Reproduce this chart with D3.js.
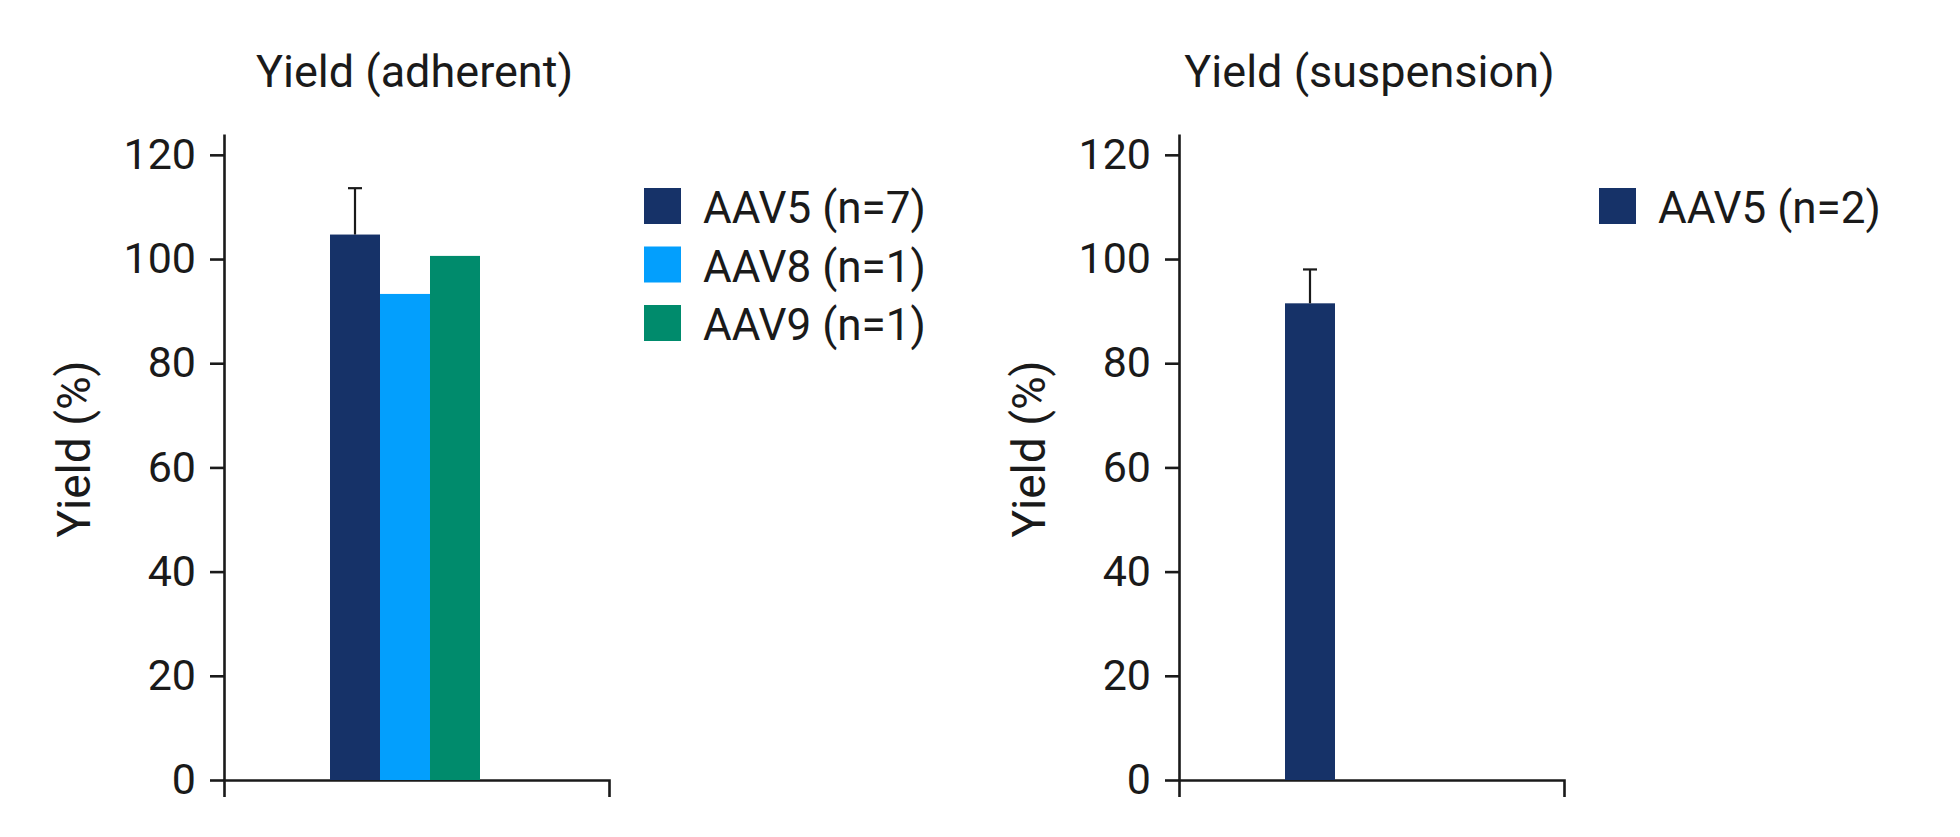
<!DOCTYPE html>
<html>
<head>
<meta charset="utf-8">
<script src="https://cdn.jsdelivr.net/npm/d3@7"></script>
<style>
  body { margin: 0; background: #fff; }
  text { font-family: Roboto, "Noto Sans", sans-serif; fill: #1a1a1a; }
  .axis path, .axis line { stroke: #1a1a1a; stroke-width: 2.6; }
  .axis text { font-size: 43px; font-family: Roboto, "Noto Sans", sans-serif; fill: #1a1a1a; }
</style>
</head>
<body>
<div id="chart"></div>
<script>
var svgWidth = 1960;
var svgHeight = 837;

// data
var adherentSeries = ["AAV5 (n=7)", "AAV8 (n=1)", "AAV9 (n=1)"];
var adherentYield = [104.7, 93.3, 100.6];
var adherentError = [8.9, null, null];

var suspensionSeries = ["AAV5 (n=2)"];
var suspensionYield = [91.5];
var suspensionError = [6.5];

var yTicks = [0, 20, 40, 60, 80, 100, 120];

var serotypeColors = {
  AAV5: "#163268",
  AAV8: "#039ffd",
  AAV9: "#008b6c"
};

// layout
var plotTop = 134;
var plotBottom = 780;
var plotWidth = 385;
var barWidth = 50;
var groupOffset = 106;

var svg = d3.select("#chart")
  .append("svg")
  .attr("width", svgWidth)
  .attr("height", svgHeight);

function drawPanel(left, title, series, values, errors) {
  var g = svg.append("g")
    .attr("transform", `translate(${left}, 0)`);

  var yScale = d3.scaleLinear()
    .domain([0, 124])
    .range([plotBottom, plotTop]);

  var xScale = d3.scaleBand()
    .domain(series)
    .range([groupOffset, groupOffset + barWidth * series.length]);

  // y axis
  g.append("g")
    .attr("class", "axis")
    .call(d3.axisLeft(yScale)
      .tickValues(yTicks)
      .tickSize(14)
      .tickSizeOuter(0)
      .tickPadding(14));

  // x axis: plain line with end ticks pointing down
  g.append("g")
    .attr("class", "axis")
    .attr("transform", `translate(0, ${plotBottom})`)
    .call(d3.axisBottom(d3.scaleLinear().range([0, plotWidth]))
      .tickValues([])
      .tickSizeOuter(17));

  var data = series.map(function(s, i) {
    return { name: s, value: values[i], err: errors[i], key: s.split(" ")[0] };
  });

  // bars
  g.append("g").selectAll("rect")
    .data(data)
    .enter()
    .append("rect")
    .attr("x", d => xScale(d.name))
    .attr("width", xScale.bandwidth())
    .attr("y", d => yScale(d.value))
    .attr("height", d => yScale(0) - yScale(d.value))
    .attr("fill", d => serotypeColors[d.key]);

  // error bars (upper only)
  var errData = data.filter(d => d.err != null);
  var errG = g.append("g")
    .attr("stroke", "#1a1a1a")
    .attr("stroke-width", 2.2);

  errG.selectAll(".err-stem")
    .data(errData)
    .enter()
    .append("line")
    .attr("x1", d => xScale(d.name) + xScale.bandwidth() / 2)
    .attr("x2", d => xScale(d.name) + xScale.bandwidth() / 2)
    .attr("y1", d => yScale(d.value))
    .attr("y2", d => yScale(d.value + d.err));

  errG.selectAll(".err-cap")
    .data(errData)
    .enter()
    .append("line")
    .attr("x1", d => xScale(d.name) + xScale.bandwidth() / 2 - 7)
    .attr("x2", d => xScale(d.name) + xScale.bandwidth() / 2 + 7)
    .attr("y1", d => yScale(d.value + d.err))
    .attr("y2", d => yScale(d.value + d.err));

  // title
  g.append("text")
    .attr("x", plotWidth / 2 - 2)
    .attr("y", 87)
    .attr("text-anchor", "middle")
    .style("font-size", "45px")
    .text(title);

  // y axis label
  g.append("text")
    .attr("transform", `translate(-134, ${(plotTop + plotBottom) / 2 - 8}) rotate(-90)`)
    .attr("text-anchor", "middle")
    .style("font-size", "46px")
    .text("Yield (%)");

  // legend
  var legend = g.append("g")
    .attr("transform", "translate(420, 188)");

  var rows = legend.selectAll("g")
    .data(data)
    .enter()
    .append("g")
    .attr("transform", (d, i) => `translate(0, ${i * 58.5})`);

  rows.append("rect")
    .attr("width", 37)
    .attr("height", 36)
    .attr("fill", d => serotypeColors[d.key]);

  rows.append("text")
    .attr("x", 59)
    .attr("y", 35)
    .style("font-size", "44px")
    .text(d => d.name);
}

drawPanel(224, "Yield (adherent)", adherentSeries, adherentYield, adherentError);
drawPanel(1179, "Yield (suspension)", suspensionSeries, suspensionYield, suspensionError);
</script>
</body>
</html>
